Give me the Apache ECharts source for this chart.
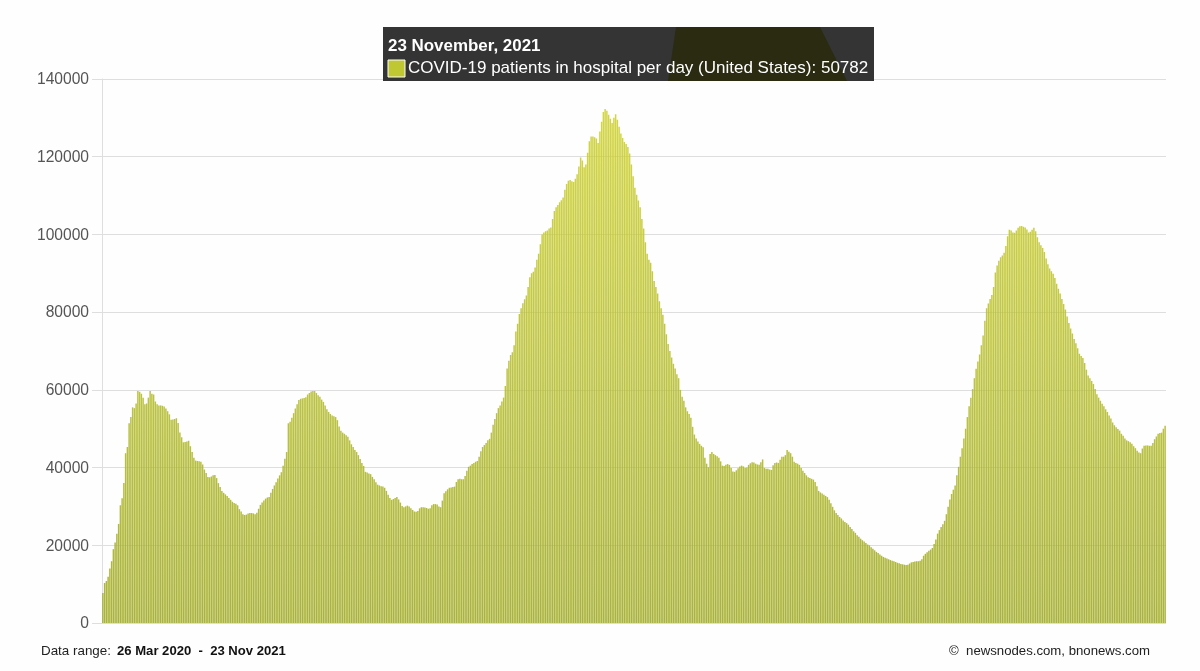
<!DOCTYPE html>
<html>
<head>
<meta charset="utf-8">
<style>html,body{margin:0;padding:0;background:#fff}#c{width:1200px;height:671px}</style>
<script src="https://cdn.jsdelivr.net/npm/echarts@6/dist/echarts.min.js"></script>
</head>
<body>
<div id="c"></div>
<script>
const startDate = '2020-03-26';
const yTicks = [0, 20000, 40000, 60000, 80000, 100000, 120000, 140000];
const tooltipDate = '23 November, 2021';
const seriesName = 'COVID-19 patients in hospital per day (United States): 50782';
const rangeLabel = 'Data range:';
const rangeValue = '26 Mar 2020  -  23 Nov 2021';
const creditLabel = '©  newsnodes.com, bnonews.com';

const patients2020Spring = [7700,10300,10800,11900,14000,15900,19000,20700,23000,25500,30300,32100,36000,43700,45300,51400,53000,55500,55300,56500,59700,59500,59000,58000,56300,56500,58000,59700,59000,58800,57000,56300,56000,56000,55900,55700,55200,54500,53700,52300,52400,52500,52700,51500,49000,47800,46500,46600,46700,46900];
const patients2020Summer = [45500,44000,42500,41800,41700,41600,41500,40800,39500,38600,37600,37500,37700,38000,38100,37300,36000,35000,34000,33500,33100,32700,32200,31700,31200,30900,30700,30300,29300,28700,28000,27800,27900,28200,28300,28300,28200,28000,28400,29400,30400,31000,31500,32000,32300,32400,33500,34500,35400,36200];
const patients2020Peak2 = [37200,38000,38800,40500,42300,44000,51400,51800,52800,54000,55200,56300,57400,57700,57800,57900,58100,58800,59200,59600,59700,59700,59200,58600,58200,57500,56900,56000,55000,54300,53800,53400,53200,53000,52200,50600,49500,49000,48700,48300,47900,47000,46000,45300,44500,44000,43200,42200,41200,40400];
const patients2020Fall = [38900,38700,38500,38300,37600,37000,36200,35600,35400,35200,35100,34800,34000,33000,32200,31700,31900,32200,32400,31800,31000,30100,29800,30000,30200,30000,29500,29100,28700,28600,28800,29500,29800,29800,29700,29600,29400,29500,30300,30600,30600,30500,30000,29800,31500,33400,33900,34400,34800,34900];
const patients2020Rise = [35000,35100,36300,37000,37100,37000,37000,37800,39200,40200,40500,40900,41200,41500,41700,42800,44200,45300,45800,46300,47000,47400,49000,51000,52500,54000,55300,56000,57000,58000,61000,65500,67500,69000,69700,71500,75000,77000,79500,81000,82300,83300,84300,86500,89000,90000,90400,91500,93500,95000];
const patientsWinterRise = [97500,100000,100500,100800,101000,101500,101800,104000,106000,107000,107600,108300,108800,109500,111500,113000,113800,114000,113700,113500,114300,115500,117500,119800,119000,117300,118000,121000,124000,125200,125200,125000,124700,123500,126500,129000,131500,132300,131800,130800,129800,128700,130000,130900,129500,127700,126000,124800,123800,123300];
const patientsWinterFall = [122500,120800,118000,115000,112000,110200,108700,107000,104000,101500,98000,95000,93500,92700,90500,88000,86500,84800,82800,81000,79300,77000,74300,71800,70000,68300,66700,65500,64000,63000,60000,58200,57200,55500,54500,53800,52800,50500,48500,47500,46700,46100,45600,45200,42500,41000,40100,43500,44000,43500];
const patientsSpring2021 = [43200,42900,42500,41600,40500,40400,40700,40900,40700,39900,39000,38900,39300,39800,40300,40500,40300,39900,40000,40700,41100,41400,41300,41000,40800,40700,41400,42100,39900,39700,39700,39500,39400,40600,41200,41300,41200,42000,42800,42800,43200,44500,44100,43700,42800,41500,41200,41000,40700,39900];
const patientsEarlySummer2021 = [39200,38600,38000,37500,37300,37100,36900,36300,35200,34000,33600,33300,33000,32700,32400,31700,30800,29900,29000,28300,27800,27300,26900,26400,26000,25700,25300,24700,24200,23600,23200,22600,22200,21700,21300,21000,20600,20200,20000,19500,19100,18700,18300,18000,17600,17300,17000,16800,16600,16400];
const patientsLowSummer2021 = [16200,16000,15900,15700,15500,15400,15200,15100,15000,14900,15000,15300,15600,15700,15800,15900,15900,16000,16400,17300,17800,18200,18600,18900,19300,20300,21500,23000,23900,24700,25400,26300,28000,29900,31800,33200,34300,35400,38000,40200,42800,45000,47500,50000,53000,55800,58000,60200,63000,65400];
const patientsDeltaPeak = [67300,69100,71500,74000,77800,81000,82200,83400,84400,86500,90200,92000,93200,94100,94600,95300,97000,99500,101200,101000,100500,100400,101000,101700,102100,102200,102000,101800,101300,100500,100700,101200,101700,100800,99300,98000,97200,96500,95500,93800,92300,91200,90500,89900,88800,87300,86000,84800,83400,82100];
const patientsAutumn2021 = [80700,78900,77200,75800,74500,73100,72000,70700,69300,68700,68200,66900,65200,63700,63000,62300,61500,60200,58900,58000,57200,56400,55800,55000,54300,53400,52600,51600,50900,50400,49900,49500,48700,48200,47500,47000,46800,46500,46100,45500,45000,44300,43900,43700,44900,45600,45700,45700,45600,45600];
const patientsLate2021 = [46300,47300,48000,48700,48900,49000,50000,50782];

const values = [].concat(patients2020Spring, patients2020Summer, patients2020Peak2, patients2020Fall, patients2020Rise,
  patientsWinterRise, patientsWinterFall, patientsSpring2021, patientsEarlySummer2021, patientsLowSummer2021,
  patientsDeltaPeak, patientsAutumn2021, patientsLate2021);
const categories = values.map((_, i) => {
  const d = new Date(startDate + 'T00:00:00Z');
  d.setUTCDate(d.getUTCDate() + i);
  return d.toISOString().slice(0, 10);
});

const chart = echarts.init(document.getElementById('c'), null, {renderer: 'canvas', width: 1200, height: 671, devicePixelRatio: 1});
const FONT = '"Liberation Sans", Arial, sans-serif';
const barFill = new echarts.graphic.LinearGradient(0, 100, 0, 623, [
  {offset: 0, color: '#cfd22e'},
  {offset: 0.5, color: '#b8bf30'},
  {offset: 1, color: '#a0ab26'}
], true);

chart.setOption({
  animation: false,
  backgroundColor: '#fefefe',
  grid: {left: 102, right: 34, top: 79, bottom: 48, containLabel: false},
  xAxis: {
    type: 'category', data: categories,
    axisLine: {show: false}, axisTick: {show: false}, axisLabel: {show: false}, splitLine: {show: false}
  },
  yAxis: {
    type: 'value', min: yTicks[0], max: yTicks[yTicks.length - 1], interval: yTicks[1] - yTicks[0],
    axisLine: {show: true, lineStyle: {color: '#dedede', width: 1}},
    axisTick: {show: true, length: 10, lineStyle: {color: '#dedede', width: 1}},
    axisLabel: {color: '#555', fontFamily: FONT, fontSize: 15.6, margin: 13, verticalAlign: 'top', lineHeight: 2, formatter: v => String(v)},
    splitLine: {show: true, lineStyle: {color: '#dedede', width: 1}}
  },
  series: [{
    type: 'bar', data: values, barWidth: 1.5, silent: true,
    itemStyle: {color: barFill, opacity: 0.9}
  }],
  graphic: [
    {type: 'rect', z: 100, shape: {x: 383, y: 27, width: 491, height: 54}, style: {fill: '#343434'}},
    {type: 'polygon', z: 101, shape: {points: [[676, 27], [820, 27], [847, 81], [668, 81]]}, style: {fill: '#2a2b10'}},
    {type: 'rect', z: 102, shape: {x: 388, y: 60, width: 17, height: 17}, style: {fill: '#bfc733', stroke: '#fff', lineWidth: 1}},
    {type: 'text', z: 102, x: 388, y: 38, style: {text: tooltipDate, fill: '#fff', font: 'bold 16.95px ' + FONT}},
    {type: 'text', z: 102, x: 408, y: 60, style: {text: seriesName, fill: '#fff', font: '17px ' + FONT}},
    {type: 'text', x: 41, y: 645, style: {text: rangeLabel, fill: '#222', font: '13.4px ' + FONT}},
    {type: 'text', x: 117, y: 645, style: {text: rangeValue, fill: '#111', font: 'bold 13.1px ' + FONT}},
    {type: 'text', x: 949, y: 645, style: {text: creditLabel, fill: '#222', font: '13.2px ' + FONT}}
  ]
});
</script>
</body>
</html>
